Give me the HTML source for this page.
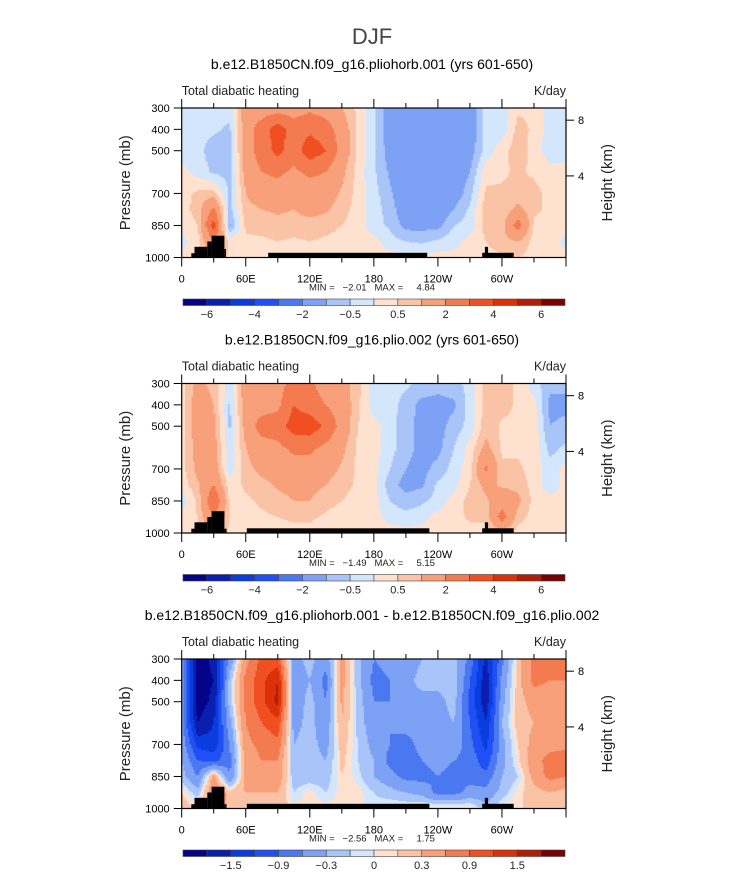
<!DOCTYPE html>
<html><head><meta charset="utf-8">
<style>
body{margin:0;background:#fff;width:733px;height:888px;overflow:hidden;font-family:"Liberation Sans",sans-serif;}
svg{position:absolute;left:0;top:0}
</style></head>
<body>
<svg id="fig" width="733" height="888" viewBox="0 0 733 888">
<text x="372" y="44" font-size="22" text-anchor="middle" fill="#444">DJF</text>
</svg>
<script>
const lons=[0,15,30,45,60,75,90,105,120,135,150,165,180,195,210,225,240,255,270,285,300,315,330,345,360];
const plevs=[300,400,500,600,700,775,850,925,1000];
const levelsA=[-6,-5,-4,-3,-2,-1,-0.5,0,0.5,1,2,3,4,5,6];
const levelsB=[-1.8,-1.5,-1.2,-0.9,-0.6,-0.3,-0.1,0,0.1,0.3,0.6,0.9,1.2,1.5,1.8];
const labelsA=["−6","−4","−2","−0.5","0.5","2","4","6"];
const labelsB=["−1.5","−0.9","−0.3","0","0.3","0.9","1.5"];
const colors=["#04048a","#0a1eb0","#0a3de0","#2050f5","#4a78f0","#7da2f5","#a8c4f8","#d4e6fc","#fee2cf","#fbc3a6","#f8a07a","#f47a50","#f04f22","#dc3008","#b21d05","#780000"];
const field1=[
[-0.3,-0.3,-0.3,0.2,0.3,0.3,0.2,-0.2,0.2],
[-0.3,-0.3,-0.3,-0.2,0.6,0.7,0.5,0.3,0.3],
[-0.3,-0.4,-0.8,-0.6,0.7,2.2,3.5,2,1],
[-0.3,-0.6,-0.7,-0.7,-0.6,-0.7,-1.1,0.3,0.4],
[1.5,1.5,1.5,1.3,1.0,0.8,0.6,0.4,0.3],
[1.5,2.5,2.5,2.0,1.5,1.0,0.7,0.4,0.3],
[1.5,3.5,3.3,2.2,1.5,1.1,0.8,0.5,0.3],
[1.5,2.5,2.5,1.8,1.4,1.0,0.8,0.4,0.3],
[1.8,2.8,3.6,2.2,1.5,1.2,0.8,0.5,0.3],
[1.5,2.5,3.0,2.0,1.4,1.1,0.7,0.4,0.3],
[1.0,1.5,1.6,1.2,0.9,0.7,0.5,0.3,0.2],
[0.4,0.4,0.4,0.3,0.3,0.3,0.3,0.2,0.2],
[-0.4,-0.4,-0.4,-0.4,-0.3,-0.3,-0.3,0.2,0.2],
[-1.4,-1.4,-1.3,-1.1,-0.9,-0.7,-0.6,-0.3,0.2],
[-1.5,-1.5,-1.5,-1.5,-1.5,-1.5,-1.2,-0.5,0.2],
[-1.5,-1.5,-1.5,-1.5,-1.5,-1.5,-1.2,-0.6,0.2],
[-1.5,-1.5,-1.5,-1.5,-1.5,-1.5,-1.2,-0.4,0.2],
[-1.5,-1.5,-1.5,-1.5,-1.4,-1.0,-0.5,-0.2,0.2],
[-1.5,-1.5,-1.3,-1.0,-0.7,-0.4,-0.3,0.2,0.2],
[-0.3,-0.3,-0.3,0.3,0.6,0.8,0.7,0.5,0.3],
[-0.3,-0.3,0.3,0.4,0.6,0.6,0.7,0.8,0.4],
[0.4,0.7,0.8,0.6,0.7,1.2,2.5,1.0,0.5],
[0.4,0.4,0.3,0.4,0.7,0.6,0.4,0.3,0.3],
[-0.3,-0.3,-0.3,0.2,0.3,0.4,0.3,0.3,0.2],
[-0.3,-0.3,-0.3,0.2,0.3,0.3,0.2,-0.2,0.2]];
const field2=[
[0.3,0.3,0.3,0.3,0.3,0.2,-0.3,0.2,0.3],
[1.2,1.5,1.5,1.3,1.2,0.9,0.6,0.5,0.4],
[0.8,1.0,1.2,1.3,1.5,2.0,3.0,2,1],
[-0.3,-0.6,-0.6,-0.4,-0.3,0.2,0.4,0.5,0.4],
[1.5,1.5,1.3,1.0,0.8,0.6,0.4,0.3,0.3],
[1.5,1.5,2.5,1.5,1.2,0.8,0.6,0.4,0.3],
[1.5,1.8,2.5,1.8,1.4,1.1,0.8,0.5,0.3],
[2.5,3.0,3.5,2.2,1.6,1.2,1.0,0.6,0.3],
[2.2,2.5,3.6,2.2,1.6,1.2,1.0,0.6,0.3],
[1.5,2.0,2.8,1.8,1.3,1.0,0.7,0.4,0.3],
[1.3,1.5,1.6,1.2,0.9,0.7,0.5,0.3,0.2],
[0.7,0.6,0.5,0.4,0.4,0.4,0.3,0.2,0.2],
[-0.3,-0.3,0.2,0.2,0.2,0.2,0.2,0.2,0.2],
[-0.3,-0.3,-0.3,-0.3,-0.5,-0.8,-0.5,-0.2,0.2],
[-0.4,-0.7,-0.8,-0.8,-1.0,-1.2,-0.8,-0.3,0.2],
[-0.6,-1.2,-1.2,-1.2,-1.2,-1.1,-0.6,-0.2,0.2],
[-0.8,-1.2,-1.2,-1.2,-0.8,-0.4,-0.3,0.2,0.2],
[-0.7,-1.1,-0.8,-0.5,-0.3,-0.2,0.2,0.3,0.3],
[-0.3,-0.3,-0.3,0.2,0.3,0.5,0.7,0.6,0.3],
[0.7,0.7,0.8,1.2,2.2,1.2,0.9,0.6,0.3],
[0.7,0.7,0.4,0.4,0.6,0.9,1.5,2.5,0.8],
[0.4,0.4,0.4,0.4,0.6,0.8,1.2,0.7,0.3],
[-0.3,0.2,0.3,0.3,0.3,0.3,0.3,0.3,0.3],
[-0.8,-1.2,-1.0,-0.7,-0.3,-0.3,0.2,0.3,0.3],
[-0.8,-1.2,-0.8,-0.4,0.2,0.2,0.2,0.3,0.3]];
const field3=[
[-0.5,-0.5,-0.5,-0.5,-0.4,-0.3,-0.2,0.1,0.2],
[-2.0,-2.0,-2.0,-1.8,-1.3,-0.9,-0.6,-0.2,0.1],
[-1.7,-1.8,-1.7,-1.5,-1.4,-1.0,0.4,0.6,0.3],
[-0.5,-0.2,-0.2,-0.4,-0.6,-0.7,-0.6,0.2,0.3],
[0.5,0.7,0.7,0.6,0.5,0.4,0.4,0.3,0.2],
[1.0,1.1,1.1,0.9,0.7,0.6,0.5,0.3,0.2],
[1.0,1.5,1.6,1.1,0.8,0.6,0.5,0.3,0.2],
[-0.4,-0.5,-0.5,-0.4,-0.3,-0.3,-0.2,-0.1,0.05],
[-0.2,-0.3,-0.2,-0.2,-0.2,-0.2,-0.2,0.05,0.05],
[-0.5,-0.7,-0.6,-0.5,-0.4,-0.3,-0.2,-0.1,0.05],
[0.4,0.4,0.35,0.3,0.2,0.15,0.1,0.05,0.05],
[-0.2,-0.2,-0.15,-0.15,-0.1,-0.1,-0.05,0.05,0.05],
[-0.6,-0.7,-0.6,-0.5,-0.4,-0.3,-0.3,-0.1,-0.05],
[-0.5,-0.6,-0.6,-0.6,-0.6,-0.7,-0.5,-0.2,0.05],
[-0.5,-0.4,-0.4,-0.5,-0.7,-0.8,-0.7,-0.3,0.05],
[-0.3,-0.2,-0.4,-0.5,-0.5,-0.6,-0.7,-0.4,0.1],
[-0.3,-0.2,-0.4,-0.4,-0.4,-0.5,-0.6,-0.7,0.1],
[-0.2,-0.1,-0.2,-0.3,-0.4,-0.6,-0.7,-0.7,0.1],
[-0.7,-0.9,-1.0,-0.9,-0.8,-0.7,-0.7,-0.5,0.1],
[-1.6,-1.7,-1.7,-1.5,-1.3,-1.1,-0.8,-0.5,-0.2],
[-0.7,-0.5,-0.4,-0.3,-0.4,-0.4,-0.3,-0.2,0.05],
[0.2,0.2,0.2,0.2,0.1,0.05,-0.1,0.05,0.1],
[0.7,0.7,0.4,0.3,0.4,0.5,0.4,0.2,0.1],
[0.7,0.6,0.4,0.4,0.5,0.7,0.7,0.3,0.1],
[0.7,0.6,0.3,0.4,0.5,0.8,0.6,0.2,0.1]];
// topography blocks [lon0, lon1, pressure top]
const topoA=[[9,12,980],[12,24,950],[24,28,925],[28,40,898],[40,41.5,960],[81,230,978],[281.5,311,978],[284,287,950]];
const topoB=[[9,12,980],[12,24,950],[24,28,925],[28,40,898],[40,42,980],[61,232,978],[281.5,311,978],[284,287,950]];
const xTickVals=[0,60,120,180,240,300];
const xTickLabels=["0","60E","120E","180","120W","60W"];
const yTickVals=[300,400,500,700,850,1000];
const hTickVals=[8,4];
const hTickP=[357,618];
const panels=[
 {top:108,title:"b.e12.B1850CN.f09_g16.pliohorb.001 (yrs 601-650)",field:field1,levels:levelsA,labels:labelsA,lstart:0,topo:topoA,min:"−2.01",max:"4.84"},
 {top:383.5,title:"b.e12.B1850CN.f09_g16.plio.002 (yrs 601-650)",field:field2,levels:levelsA,labels:labelsA,lstart:0,topo:topoB,min:"−1.49",max:"5.15"},
 {top:659,title:"b.e12.B1850CN.f09_g16.pliohorb.001 - b.e12.B1850CN.f09_g16.plio.002",field:field3,levels:levelsB,labels:labelsB,lstart:1,topo:topoB,min:"−2.56",max:"1.75"}
];
const NS="http://www.w3.org/2000/svg";
const svg=document.getElementById('fig');
const X0=181.7,X1=566,H=149.5;
function mk(tag,attrs,parent){const e=document.createElementNS(NS,tag);for(const k in attrs)e.setAttribute(k,attrs[k]);(parent||svg).appendChild(e);return e;}
function sample(f,lon,p){
 let i=Math.min(Math.floor(lon/15),23);let tx=(lon-lons[i])/15;
 let j=0;while(j<plevs.length-2&&p>plevs[j+1])j++;
 let ty=(p-plevs[j])/(plevs[j+1]-plevs[j]);
 const a=f[i][j],b=f[i+1][j],c=f[i][j+1],d=f[i+1][j+1];
 return a*(1-tx)*(1-ty)+b*tx*(1-ty)+c*(1-tx)*ty+d*tx*ty;
}
function colorIdx(v,lv){let k=0;while(k<lv.length&&v>=lv[k])k++;return k;}
panels.forEach((P,pi)=>{
 const T=P.top,B=T+H;
 const xs=l=>X0+(l/360)*(X1-X0);
 const ys=p=>T+(p-300)/700*H;
 const g=mk('g',{});
 
 
 const fg=mk('g',{'shape-rendering':'crispEdges'},g);
 
 
 const dl=1.5,dp=5;
 for(let p=300;p<1000;p+=dp){
  let runStart=0,runC=-1;
  for(let l=0;l<=360;l+=dl){
   let c=-2;
   if(l<360)c=colorIdx(sample(P.field,l+dl/2,p+dp/2),P.levels);
   if(c!==runC){
    if(runC>=0){const r=mk('rect',{x:xs(runStart).toFixed(2),y:ys(p).toFixed(2),width:(xs(l)-xs(runStart)+0.4).toFixed(2),height:(ys(p+dp)-ys(p)+0.4).toFixed(2),fill:colors[runC]},fg);
     
     }
    runStart=l;runC=c;
   }
  }
 }
 P.topo.forEach(t=>{const r=mk('rect',{x:xs(t[0]),y:ys(t[2]),width:xs(t[1])-xs(t[0]),height:B-ys(t[2]),fill:'#000'},g);
  
  });
 const fr=mk('rect',{x:X0,y:T,width:X1-X0,height:H,fill:'none',stroke:'#000','stroke-width':1.2},g);
 
 
 for(let l=0;l<=360;l+=30){const major=l%60===0;const len=major?9:5;
  mk('line',{x1:xs(l),x2:xs(l),y1:B,y2:B+len,stroke:'#000'},g);
  mk('line',{x1:xs(l),x2:xs(l),y1:T,y2:T-len,stroke:'#000'},g);}
 xTickVals.forEach((v,k)=>{const t=mk('text',{x:xs(v),y:B+25,'font-size':11,'text-anchor':'middle'},g);t.textContent=xTickLabels[k];
  
  });
 yTickVals.forEach(v=>{mk('line',{x1:X0-8,x2:X0,y1:ys(v),y2:ys(v),stroke:'#000'},g);
  const t=mk('text',{x:X0-12,y:ys(v)+4,'font-size':11,'text-anchor':'end'},g);t.textContent=v;
  
  });
 hTickVals.forEach((v,k)=>{const y=ys(hTickP[k]);mk('line',{x1:X1,x2:X1+8,y1:y,y2:y,stroke:'#000'},g);
  const t=mk('text',{x:X1+12,y:y+4,'font-size':11},g);t.textContent=v;
  
  });
 const yl=mk('text',{x:0,y:0,'font-size':15,'text-anchor':'middle',transform:`translate(130,${T+H/2}) rotate(-90)`,fill:'#222'},g);yl.textContent='Pressure (mb)';
 
 
 const hl=mk('text',{x:0,y:0,'font-size':15,'text-anchor':'middle',transform:`translate(612,${T+H/2}) rotate(-90)`,fill:'#222'},g);hl.textContent='Height (km)';
 
 
 const ti=mk('text',{x:372,y:T-39,'font-size':14,'text-anchor':'middle'},g);ti.textContent=P.title;
 
 
 const ls=mk('text',{x:X0,y:T-13,'font-size':12.5,fill:'#222'},g);ls.textContent='Total diabatic heating';
 
 
 const rs=mk('text',{x:X1,y:T-13,'font-size':12.5,'text-anchor':'end',fill:'#222'},g);rs.textContent='K/day';
 
 
 const mm=mk('text',{x:372,y:B+33,'font-size':9.5,'text-anchor':'middle',fill:'#222',style:'white-space:pre'},g);mm.textContent=`MIN =   ${P.min}   MAX =     ${P.max}`;
 
 
 // colorbar
 const cb=mk('g',{},g);
 
 
 const cx0=183,cx1=565,cy=B+41.5,cw=(cx1-cx0)/16;
 colors.forEach((c,k)=>{const r=mk('rect',{x:cx0+k*cw,y:cy,width:cw,height:6.5,fill:c,stroke:'#444','stroke-width':0.6},cb);
  
  });
 P.labels.forEach((lab,k)=>{const bi=P.lstart+2*k+1;const t=mk('text',{x:cx0+bi*cw,y:cy+19,'font-size':11,'text-anchor':'middle',fill:'#222'},cb);t.textContent=lab;
  
  });
});
</script>
</body></html>
